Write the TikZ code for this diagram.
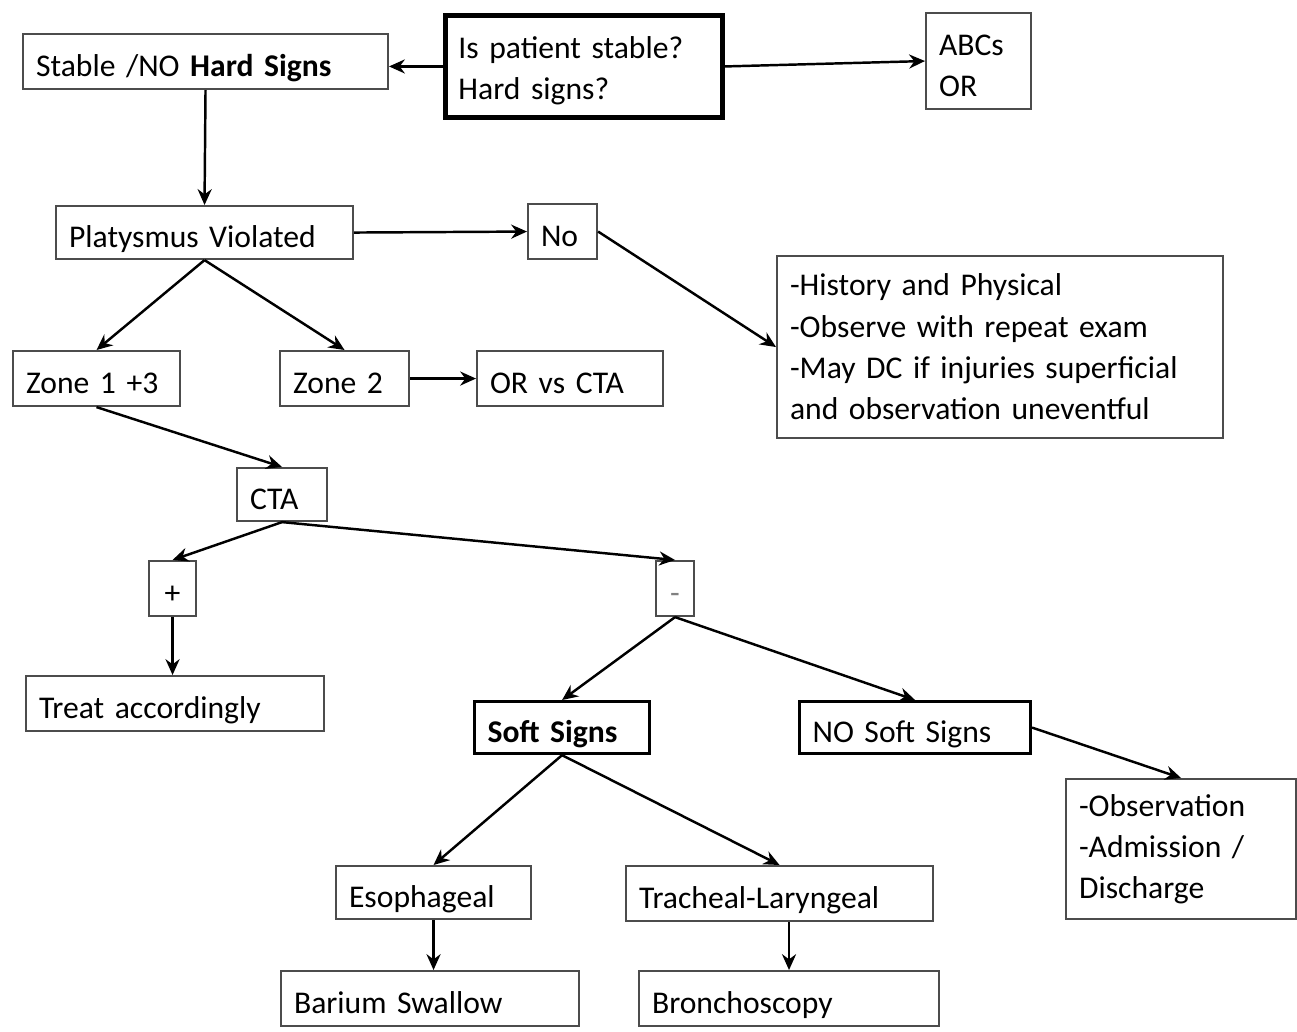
\documentclass[tikz,border=0pt]{standalone}
\usepackage{fontspec}
\setmainfont{Carlito}
\usetikzlibrary{arrows.meta, positioning}
\tikzset{
>={Stealth[length=9pt,width=8pt]}, % arrow heads
box/.style={draw=black!70, line width=1.2pt, fill=white, anchor=north west, inner xsep=0.26cm, inner ysep=0pt, align=left, font=\fontsize{18}{23.5}\selectfont}, % plain boxes
one/.style={box, text height=17pt, text depth=0pt}, % single line boxes
heavy/.style={one, draw=black, line width=1.8pt}, % soft sign boxes
link/.style={->, line width=1.4pt}, % connectors
}
\begin{document}
\begin{tikzpicture}[x=0.02cm, y=-0.02cm]
\useasboundingbox (0,0) rectangle (1297,1031);
% top row
\node[box, draw=black, line width=2.8pt, text width=5.02cm, minimum height=2.04cm] (q) at (443,13) {\rule{0pt}{17pt}Is patient stable?\\Hard signs?};
\node[one, text width=6.78cm, minimum height=1.10cm] (stable) at (22,33) {Stable /NO \textbf{Hard Signs}};
\node[box, text width=1.58cm, minimum height=1.92cm] (abcs) at (925,12) {\rule{0pt}{17pt}ABCs\\OR};
% platysma
\node[one, text width=5.42cm, minimum height=1.06cm] (platys) at (55,205) {Platysmus Violated};
\node[one, text width=0.86cm, minimum height=1.10cm] (no) at (527,203) {No};
\node[box, text width=8.40cm, minimum height=3.64cm] (hist) at (776,255) {-History and Physical\\-Observe with repeat exam\\-May DC if injuries superficial\\and observation uneventful};
% zones
\node[one, text width=2.82cm, minimum height=1.10cm] (zone1) at (12,350) {Zone 1 +3};
\node[one, text width=2.06cm, minimum height=1.10cm] (zone2) at (279,350) {Zone 2};
\node[one, text width=3.20cm, minimum height=1.10cm] (orcta) at (476,350) {OR vs CTA};
% CTA
\node[one, text width=1.28cm, minimum height=1.06cm] (cta) at (236,467) {CTA};
\node[one, align=center, minimum width=0.94cm, minimum height=1.10cm] (plus) at (148,560) {+};
\node[one, align=center, minimum width=0.76cm, minimum height=1.10cm] (minus) at (655,560) {\textcolor{black!50}{-}};
\node[one, text width=5.44cm, minimum height=1.10cm] (treat) at (25,675) {Treat accordingly};
% soft signs
\node[heavy, text width=2.98cm, minimum height=1.04cm] (soft) at (473,700) {\textbf{Soft Signs}};
\node[heavy, text width=4.10cm, minimum height=1.04cm] (nosoft) at (798,700) {NO Soft Signs};
\node[box, text width=4.08cm, minimum height=2.80cm] (obs) at (1065,778) {-Observation\\-Admission /\\Discharge};
\node[one, text width=3.38cm, minimum height=1.06cm] (eso) at (335,865) {Esophageal};
\node[one, text width=5.62cm, minimum height=1.10cm] (trach) at (625,865) {Tracheal-Laryngeal};
\node[one, text width=5.44cm, minimum height=1.10cm] (barium) at (280,970) {Barium Swallow};
\node[one, text width=5.48cm, minimum height=1.10cm] (bronch) at (638,970) {Bronchoscopy};
% connectors
\draw[link] (q.west) -- (q.west -| stable.east);
\draw[link] (q.east) -- (abcs.west);
\draw[link] (stable.south) -- (platys.north);
\draw[link] (platys.east) -- (no.west);
\draw[link] (no.east) -- (hist.west);
\draw[link] (platys.south) -- (zone1.north);
\draw[link] (platys.south) -- (zone2.north);
\draw[link] (zone2.east) -- (orcta.west);
\draw[link] (zone1.south) -- (cta.north);
\draw[link] (cta.south) -- (plus.north);
\draw[link] (cta.south) -- (minus.north);
\draw[link] (plus.south) -- (plus.south |- treat.north);
\draw[link] (minus.south) -- (soft.north);
\draw[link] (minus.south) -- (nosoft.north);
\draw[link] (nosoft.east) -- (obs.north);
\draw[link] (soft.south) -- (eso.north);
\draw[link] (soft.south) -- (trach.north);
\draw[link] (eso.south) -- (eso.south |- barium.north);
\draw[link] (bronch.north |- trach.south) -- (bronch.north);
\end{tikzpicture}
\end{document}
